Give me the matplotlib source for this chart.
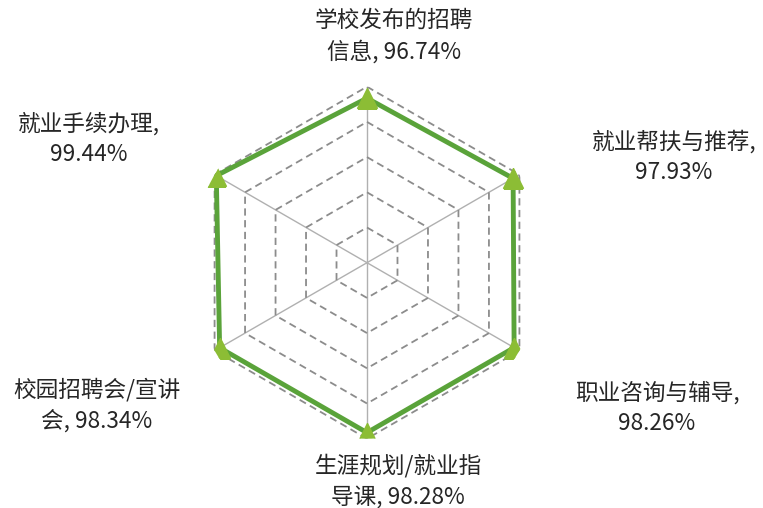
import numpy as np
import matplotlib
matplotlib.use('Agg')
import matplotlib.pyplot as plt

plt.rcParams['font.family'] = ['Noto Sans CJK SC', 'DejaVu Sans']

# data, clockwise from top
categories = ['学校发布的招聘\n信息', '就业帮扶与推荐,', '职业咨询与辅导,',
              '生涯规划/就业指\n导课', '校园招聘会/宣讲\n会', '就业手续办理,']
values = [96.74, 97.93, 98.26, 98.28, 98.34, 99.44]
rings = [60, 70, 80, 90, 100]

# label centres in pixels (x, y from top)
label_pos = [(394, 36), (674, 157), (657, 408), (398, 481), (97, 405), (89, 139)]

W, H = 763, 508
fig = plt.figure(figsize=(W/100, H/100), dpi=100)

cx, cy, R = 367, 262.7, 176
ax = fig.add_axes([(cx-R)/W, (H-cy-R)/H, 2*R/W, 2*R/H], projection='polar')
ax.set_theta_zero_location('N')
ax.set_theta_direction(-1)
ax.set_ylim(50, 100)
ax.axis('off')

n = len(values)
theta = np.arange(n) * 2*np.pi/n
closed = np.append(theta, theta[0])

# spokes
for t in theta:
    ax.plot([t, t], [50, 100], color='#b0b0b0', linewidth=1.0, zorder=1)

# hexagon grid
for r in rings:
    ax.plot(closed, [r]*(n+1), color='#8c8c8c', linewidth=1.3,
            linestyle=(0, (4, 2.5)), zorder=2)

vals = values + [values[0]]
ax.plot(closed, vals, color='#5aa33a', linewidth=3.5, zorder=3)
ax.plot(theta, values, linestyle='none', marker='^', markersize=14,
        color='#8cbd35', zorder=4)

for cat, v, (px, py) in zip(categories, values, label_pos):
    if '\n' in cat:
        txt = cat + ', %.2f%%' % v
    else:
        txt = cat + '\n%.2f%%' % v
    fig.text(px/W, 1 - py/H, txt, ha='center', va='center',
             multialignment='center', fontsize=16.3, color='#262626',
             linespacing=1.45)

fig.savefig('out.png', dpi=100)
